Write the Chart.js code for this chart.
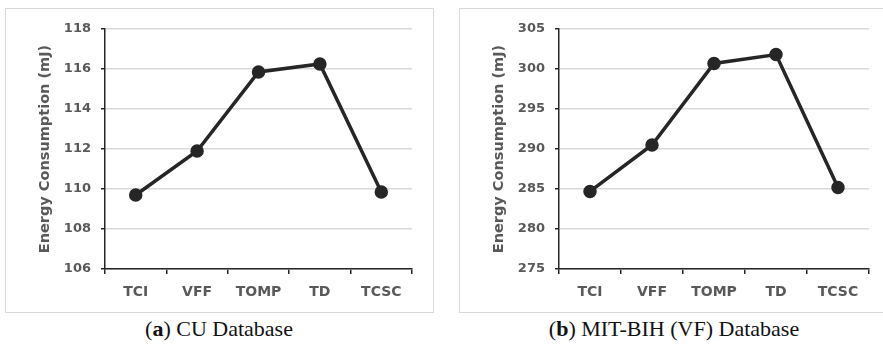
<!DOCTYPE html>
<html>
<head>
<meta charset="utf-8">
<script src="https://cdn.jsdelivr.net/npm/chart.js@4"></script>
<style>
  body { margin: 0; background: #fff; width: 883px; height: 344px; position: relative; overflow: hidden; }
  .panel { position: absolute; top: 8px; height: 305px; box-sizing: border-box; border: 1.5px solid #d9d9d9; }
  .panel canvas { position: absolute; left: 0; top: 0; }
  .caption { position: absolute; top: 316px; font-family: "Liberation Serif", "DejaVu Serif", serif; font-size: 22px; line-height: 26px; color: #111; text-align: center; width: 420px; }
</style>
</head>
<body>
<div class="panel" id="panelA" style="left:5px; width:429px;"><canvas id="chartA" width="426" height="302"></canvas></div>
<div class="panel" id="panelB" style="left:459px; width:430px;"><canvas id="chartB" width="427" height="302"></canvas></div>
<div class="caption" style="left:9px;">(<b>a</b>) CU Database</div>
<div class="caption" style="left:464px;">(<b>b</b>) MIT-BIH (VF) Database</div>

<script>
// categories shared by both panels
const methods = ["TCI", "VFF", "TOMP", "TD", "TCSC"];

// (a) CU Database
const cuEnergy = [109.7, 111.9, 115.85, 116.25, 109.85];
const cuTicks = [106, 108, 110, 112, 114, 116, 118];

// (b) MIT-BIH (VF) Database
const mitEnergy = [284.7, 290.5, 300.7, 301.8, 285.2];
const mitTicks = [275, 280, 285, 290, 295, 300, 305];

const INK = "#262626";
const LABEL = "#595959";
const FONT = "'DejaVu Sans', 'Noto Sans', sans-serif";

function makeChart(id, values, ticks, area) {
    const step = ticks[1] - ticks[0];
    return new Chart(document.getElementById(id), {
        type: "line",
        data: {
            labels: methods,
            datasets: [{
                data: values,
                borderColor: INK,
                backgroundColor: INK,
                borderWidth: 3.5,
                pointRadius: 5,
                pointHoverRadius: 5,
                tension: 0
            }]
        },
        options: {
            responsive: false,
            animation: false,
            events: [],
            layout: { padding: { top: area.top, right: area.right, bottom: 0, left: 0 } },
            plugins: { legend: { display: false }, tooltip: { enabled: false } },
            scales: {
                x: {
                    offset: true,
                    grid: { offset: true, drawOnChartArea: false, color: INK, tickLength: 5, lineWidth: 1.5 },
                    border: { color: INK, width: 1.5 },
                    ticks: { color: LABEL, font: { family: FONT, size: 14, weight: "bold" }, padding: 10 },
                    afterFit: s => { s.height = area.xHeight; }
                },
                y: {
                    min: ticks[0],
                    max: ticks[ticks.length - 1],
                    afterBuildTicks: s => { s.ticks = ticks.map(v => ({ value: v })); },
                    grid: { color: "#d9d9d9", lineWidth: 1.5, tickColor: INK, tickLength: 4, drawTicks: true },
                    border: { color: INK, width: 1.5 },
                    ticks: { stepSize: step, color: LABEL, font: { family: FONT, size: 13, weight: "bold" }, padding: 10 },
                    title: {
                        display: true,
                        text: "Energy Consumption (mJ)",
                        color: LABEL,
                        font: { family: FONT, size: 14.5, weight: "bold" },
                        padding: { top: 31, bottom: 0 }
                    },
                    afterFit: s => { s.width = area.yWidth; }
                }
            }
        }
    });
}

makeChart("chartA", cuEnergy, cuTicks, { top: 20, right: 20, xHeight: 42, yWidth: 99 });
makeChart("chartB", mitEnergy, mitTicks, { top: 20, right: 18, xHeight: 42, yWidth: 99 });
</script>
</body>
</html>
